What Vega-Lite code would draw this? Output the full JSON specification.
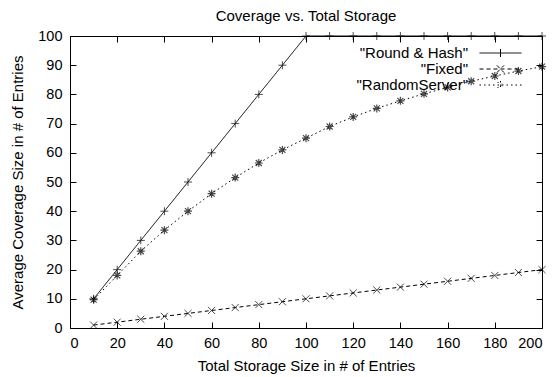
{
  "$schema": "https://vega.github.io/schema/vega-lite/v6.json",
  "width": 472,
  "height": 292,
  "autosize": "none",
  "padding": {"left": 70, "top": 36, "right": 13, "bottom": 49},
  "background": "white",
  "title": {"text": "Coverage vs. Total Storage", "fontSize": 15, "fontWeight": "normal", "font": "Liberation Sans", "color": "black", "offset": 4},
  "config": {
    "view": {"stroke": "black", "strokeWidth": 1},
    "font": "Liberation Sans",
    "axis": {"domain": false, "grid": false, "tickColor": "black", "tickSize": -6, "tickWidth": 1, "labelFontSize": 14.5, "labelColor": "black", "labelFont": "Liberation Sans", "titleFontSize": 15, "titleFontWeight": "normal", "titleColor": "black", "titleFont": "Liberation Sans", "labelPadding": 14}
  },
  "datasets": {
    "d": [
      {"series": "Round & Hash", "x": 10, "y": 10}, {"series": "Round & Hash", "x": 20, "y": 20}, {"series": "Round & Hash", "x": 30, "y": 30}, {"series": "Round & Hash", "x": 40, "y": 40}, {"series": "Round & Hash", "x": 50, "y": 50}, {"series": "Round & Hash", "x": 60, "y": 60}, {"series": "Round & Hash", "x": 70, "y": 70}, {"series": "Round & Hash", "x": 80, "y": 80}, {"series": "Round & Hash", "x": 90, "y": 90}, {"series": "Round & Hash", "x": 100, "y": 100}, {"series": "Round & Hash", "x": 110, "y": 100}, {"series": "Round & Hash", "x": 120, "y": 100}, {"series": "Round & Hash", "x": 130, "y": 100}, {"series": "Round & Hash", "x": 140, "y": 100}, {"series": "Round & Hash", "x": 150, "y": 100}, {"series": "Round & Hash", "x": 160, "y": 100}, {"series": "Round & Hash", "x": 170, "y": 100}, {"series": "Round & Hash", "x": 180, "y": 100}, {"series": "Round & Hash", "x": 190, "y": 100}, {"series": "Round & Hash", "x": 200, "y": 100},
      {"series": "Fixed", "x": 10, "y": 1}, {"series": "Fixed", "x": 20, "y": 2}, {"series": "Fixed", "x": 30, "y": 3}, {"series": "Fixed", "x": 40, "y": 4}, {"series": "Fixed", "x": 50, "y": 5}, {"series": "Fixed", "x": 60, "y": 6}, {"series": "Fixed", "x": 70, "y": 7}, {"series": "Fixed", "x": 80, "y": 8}, {"series": "Fixed", "x": 90, "y": 9}, {"series": "Fixed", "x": 100, "y": 10}, {"series": "Fixed", "x": 110, "y": 11}, {"series": "Fixed", "x": 120, "y": 12}, {"series": "Fixed", "x": 130, "y": 13}, {"series": "Fixed", "x": 140, "y": 14}, {"series": "Fixed", "x": 150, "y": 15}, {"series": "Fixed", "x": 160, "y": 16}, {"series": "Fixed", "x": 170, "y": 17}, {"series": "Fixed", "x": 180, "y": 18}, {"series": "Fixed", "x": 190, "y": 19}, {"series": "Fixed", "x": 200, "y": 20},
      {"series": "RandomServer", "x": 10, "y": 9.7}, {"series": "RandomServer", "x": 20, "y": 18}, {"series": "RandomServer", "x": 30, "y": 26.3}, {"series": "RandomServer", "x": 40, "y": 33.5}, {"series": "RandomServer", "x": 50, "y": 40}, {"series": "RandomServer", "x": 60, "y": 46}, {"series": "RandomServer", "x": 70, "y": 51.5}, {"series": "RandomServer", "x": 80, "y": 56.5}, {"series": "RandomServer", "x": 90, "y": 61}, {"series": "RandomServer", "x": 100, "y": 65}, {"series": "RandomServer", "x": 110, "y": 69}, {"series": "RandomServer", "x": 120, "y": 72.3}, {"series": "RandomServer", "x": 130, "y": 75.2}, {"series": "RandomServer", "x": 140, "y": 77.8}, {"series": "RandomServer", "x": 150, "y": 80.2}, {"series": "RandomServer", "x": 160, "y": 82.4}, {"series": "RandomServer", "x": 170, "y": 84.5}, {"series": "RandomServer", "x": 180, "y": 86.3}, {"series": "RandomServer", "x": 190, "y": 88}, {"series": "RandomServer", "x": 200, "y": 89.5}
    ]
  },
  "data": {"name": "d"},
  "layer": [
    {
      "mark": {"type": "line", "color": "black", "strokeWidth": 1, "clip": false},
      "encoding": {
        "x": {"field": "x", "type": "quantitative", "scale": {"domain": [0, 200], "nice": false}, "axis": {"orient": "bottom", "values": [0, 20, 40, 60, 80, 100, 120, 140, 160, 180, 200], "title": "Total Storage Size in # of Entries", "titlePadding": 9}},
        "y": {"field": "y", "type": "quantitative", "scale": {"domain": [0, 100], "nice": false}, "axis": {"orient": "left", "values": [0, 10, 20, 30, 40, 50, 60, 70, 80, 90, 100], "title": "Average Coverage Size in # of Entries", "titlePadding": 12}},
        "strokeDash": {"field": "series", "type": "nominal", "scale": {"domain": ["Round & Hash", "Fixed", "RandomServer"], "range": [[1, 0], [4, 3], [1.5, 3]]},
          "legend": {"orient": "none", "legendX": 423, "legendY": 9.5, "title": null, "padding": 0, "rowPadding": -1.5, "symbolSize": 16, "symbolStrokeWidth": 1, "symbolStrokeColor": "black", "symbolFillColor": "transparent", "symbolOpacity": 1, "labelAlign": "right", "labelOffset": -40, "labelFontSize": 15, "labelFont": "Liberation Sans", "labelColor": "black", "labelExpr": "'\"' + datum.label + '\"'"}}
      }
    },
    {
      "transform": [{"filter": "datum.series == 'Round & Hash'"}],
      "mark": {"type": "point", "shape": "M-1,0H1M0,-1V1", "filled": false, "color": "black", "strokeWidth": 1, "size": 64, "clip": false},
      "encoding": {
        "x": {"field": "x", "type": "quantitative", "axis": {"orient": "top", "values": [0, 20, 40, 60, 80, 100, 120, 140, 160, 180, 200], "labels": false, "title": null}},
        "y": {"field": "y", "type": "quantitative", "axis": {"orient": "right", "values": [0, 10, 20, 30, 40, 50, 60, 70, 80, 90, 100], "labels": false, "title": null}}
      }
    },
    {
      "transform": [{"filter": "datum.series == 'Fixed'"}],
      "mark": {"type": "point", "shape": "M-1,-1L1,1M-1,1L1,-1", "filled": false, "color": "black", "strokeWidth": 1, "size": 50, "clip": false},
      "encoding": {
        "x": {"field": "x", "type": "quantitative", "axis": null},
        "y": {"field": "y", "type": "quantitative", "axis": null}
      }
    },
    {
      "transform": [{"filter": "datum.series == 'RandomServer'"}],
      "mark": {"type": "point", "shape": "M-1,0H1M0,-1V1M-0.75,-0.75L0.75,0.75M-0.75,0.75L0.75,-0.75", "filled": false, "color": "black", "strokeWidth": 1.2, "size": 64, "clip": false},
      "encoding": {
        "x": {"field": "x", "type": "quantitative", "axis": null},
        "y": {"field": "y", "type": "quantitative", "axis": null}
      }
    },
    {
      "mark": {"type": "point", "filled": false, "color": "black", "strokeWidth": 1, "opacity": 0},
      "encoding": {
        "x": {"field": "x", "type": "quantitative", "axis": null},
        "y": {"field": "y", "type": "quantitative", "axis": null},
        "shape": {"field": "series", "type": "nominal", "scale": {"domain": ["Round & Hash", "Fixed", "RandomServer"], "range": ["M-10.5,0H10.5M0,-2V2", "M-10.5,0H10.5M-1.8,-1.8L1.8,1.8M-1.8,1.8L1.8,-1.8", "M-10.5,0H10.5M0,-2V2M-1.5,-1.5L1.5,1.5M-1.5,1.5L1.5,-1.5"]},
          "legend": {"orient": "none", "legendX": 423, "legendY": 9.5, "title": null, "padding": 0, "rowPadding": -1.5, "symbolSize": 16, "symbolStrokeWidth": 1, "symbolStrokeColor": "black", "symbolFillColor": "transparent", "symbolOpacity": 1, "labelAlign": "right", "labelOffset": -40, "labelFontSize": 15, "labelFont": "Liberation Sans", "labelColor": "black", "labelExpr": "'\"' + datum.label + '\"'"}},
        "strokeDash": {"field": "series", "type": "nominal",
          "legend": {"orient": "none", "legendX": 423, "legendY": 9.5, "title": null, "padding": 0, "rowPadding": -1.5, "symbolSize": 16, "symbolStrokeWidth": 1, "symbolStrokeColor": "black", "symbolFillColor": "transparent", "symbolOpacity": 1, "labelAlign": "right", "labelOffset": -40, "labelFontSize": 15, "labelFont": "Liberation Sans", "labelColor": "black", "labelExpr": "'\"' + datum.label + '\"'"}}
      }
    }
  ],
  "resolve": {"axis": {"x": "independent", "y": "independent"}}
}
